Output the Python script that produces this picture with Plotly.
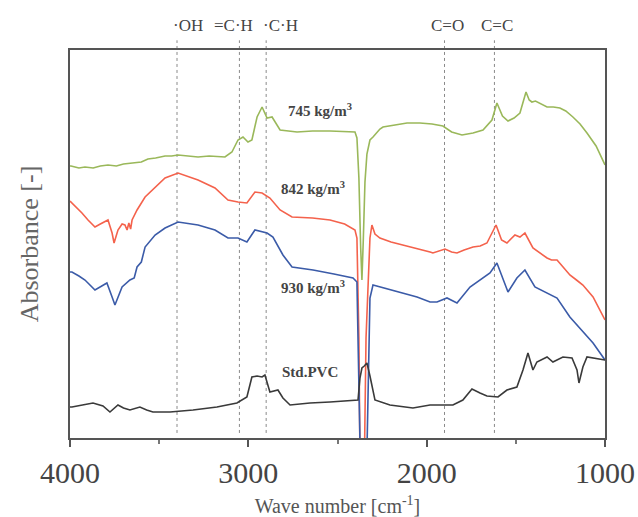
import plotly.graph_objects as go

# ---------------- data (wavenumber cm^-1, absorbance a.u.) ----------------
w_745 = [4000, 3994, 3950, 3916, 3870, 3830, 3787, 3740, 3700, 3652, 3600, 3563, 3520, 3467, 3430, 3394, 3340, 3282, 3220, 3131,
         3092, 3058, 3030, 3002, 2980, 2951, 2923, 2895, 2867, 2822, 2727, 2640, 2542, 2460, 2402,
         2391, 2380, 2370, 2363, 2355, 2346, 2335, 2318, 2301, 2262, 2245, 2180, 2110, 2038,
         1970, 1909, 1860, 1802, 1740, 1684, 1634, 1606, 1575, 1544, 1510, 1477, 1443, 1425, 1410, 1390, 1365, 1325, 1290, 1253,
         1220, 1180, 1140, 1101, 1050, 1000]
a_745 = [1.36, 1.36, 1.35, 1.355, 1.35, 1.36, 1.365, 1.36, 1.37, 1.375, 1.38, 1.395, 1.40, 1.41, 1.41, 1.415, 1.41, 1.405, 1.41, 1.405,
         1.43, 1.49, 1.505, 1.48, 1.49, 1.605, 1.655, 1.60, 1.605, 1.54, 1.53, 1.535, 1.535, 1.53, 1.53,
         1.50, 1.30, 0.95, 0.79, 1.00, 1.28, 1.42, 1.49, 1.505, 1.545, 1.555, 1.565, 1.575, 1.575,
         1.57, 1.56, 1.53, 1.515, 1.525, 1.54, 1.59, 1.675, 1.61, 1.585, 1.60, 1.625, 1.73, 1.69, 1.68, 1.685, 1.675, 1.655, 1.655, 1.65,
         1.635, 1.605, 1.57, 1.525, 1.46, 1.365]

w_842 = [4000, 3960, 3933, 3899, 3860, 3830, 3804, 3787, 3764, 3753, 3731, 3708, 3692, 3680, 3670, 3660, 3652, 3624, 3579,
         3523, 3467, 3394, 3282, 3187, 3114, 3058, 3008, 2963, 2923, 2879, 2822, 2755, 2640, 2542, 2460, 2402,
         2391, 2380, 2372, 2352, 2340, 2318, 2307, 2290, 2262, 2200, 2133, 2054, 1981, 1965, 1930, 1897, 1860, 1830, 1790, 1740, 1700, 1662,
         1611, 1580, 1550, 1505, 1477, 1449, 1404, 1360, 1325, 1300, 1269, 1240, 1197, 1160, 1124, 1067, 1000]
a_842 = [1.185, 1.15, 1.125, 1.09, 1.055, 1.07, 1.08, 1.09, 1.025, 0.975, 1.04, 1.07, 1.065, 1.04, 1.075, 1.045, 1.09, 1.14, 1.205,
         1.255, 1.30, 1.325, 1.29, 1.25, 1.19, 1.18, 1.175, 1.23, 1.225, 1.20, 1.14, 1.105, 1.10, 1.09, 1.07, 1.04,
         1.00, 0.50, -0.30, -0.30, 0.50, 1.00, 1.065, 1.02, 1.00, 0.98, 0.965, 0.95, 0.93, 0.925, 0.935, 0.945, 0.93, 0.925, 0.94, 0.955, 0.96, 0.975,
         1.065, 0.99, 0.975, 1.015, 1.005, 1.025, 0.95, 0.92, 0.90, 0.89, 0.89, 0.86, 0.815, 0.79, 0.765, 0.705, 0.59]

w_930 = [4000, 3989, 3950, 3916, 3860, 3820, 3793, 3764, 3748, 3708, 3664, 3640, 3624, 3600, 3579, 3523, 3467, 3394, 3282, 3187,
         3114, 3058, 3008, 2963, 2895, 2862, 2806, 2755, 2637, 2520, 2413,
         2391, 2380, 2368, 2340, 2329, 2318, 2301, 2240, 2167, 2054, 1981, 1942, 1886, 1830, 1757, 1701, 1645, 1606,
         1570, 1544, 1494, 1449, 1393, 1325, 1269, 1197, 1124, 1067, 1000]
a_930 = [0.83, 0.83, 0.81, 0.79, 0.74, 0.76, 0.775, 0.705, 0.665, 0.755, 0.79, 0.80, 0.855, 0.88, 0.955, 1.015, 1.05, 1.08, 1.065, 1.04,
         1.00, 1.00, 0.98, 1.04, 1.025, 1.005, 0.915, 0.855, 0.84, 0.82, 0.80,
         0.78, 0.40, -0.30, -0.30, 0.20, 0.70, 0.765, 0.75, 0.73, 0.705, 0.68, 0.68, 0.70, 0.675, 0.755, 0.79, 0.825, 0.875,
         0.79, 0.73, 0.80, 0.84, 0.755, 0.725, 0.70, 0.605, 0.53, 0.475, 0.39]

w_pvc = [4000, 3989, 3930, 3871, 3815, 3776, 3731, 3700, 3664, 3608, 3570, 3535, 3439, 3310, 3176, 3064, 3008, 2980, 2951, 2923, 2907,
         2879, 2834, 2806, 2766, 2654, 2542, 2385,
         2374, 2363, 2350, 2335, 2318, 2290, 2206, 2077, 1981, 1909, 1853, 1797, 1746, 1701, 1662, 1600, 1550, 1494,
         1460, 1432, 1404, 1382, 1325, 1292, 1236, 1185, 1157, 1146, 1124, 1101, 1067, 1000]
a_pvc = [0.155, 0.155, 0.165, 0.175, 0.16, 0.13, 0.165, 0.15, 0.14, 0.155, 0.14, 0.13, 0.13, 0.14, 0.155, 0.175, 0.205, 0.305, 0.31, 0.305, 0.315,
         0.23, 0.24, 0.20, 0.165, 0.175, 0.18, 0.19,
         0.30, 0.35, 0.36, 0.375, 0.31, 0.19, 0.165, 0.15, 0.165, 0.165, 0.165, 0.19, 0.245, 0.225, 0.21, 0.205, 0.24, 0.255,
         0.34, 0.425, 0.34, 0.38, 0.405, 0.38, 0.405, 0.40, 0.34, 0.275, 0.355, 0.405, 0.40, 0.39]

band_pos = [3400, 3050, 2900, 1900, 1620]
band_lbl = ["\u00b7OH", "=C\u00b7H", "\u00b7C\u00b7H", "C=O", "C=C"]
band_lbl_x = [3338, 3086, 2817, 1886, 1606]

series_names = ["745 kg/m<sup>3</sup>", "842 kg/m<sup>3</sup>", "930 kg/m<sup>3</sup>", "Std.PVC"]
label_x = [2598, 2637, 2637, 2654]
label_y = [1.64, 1.25, 0.755, 0.33]

x_ticks = [4000, 3000, 2000, 1000]

# ---------------- figure ----------------
FONT = "Liberation Serif, Times New Roman, serif"
colors = ["#9ab85a", "#f4624c", "#3b5ba8", "#3a3a3a"]
fig = go.Figure()
for wx, ay, c, n in zip([w_745, w_842, w_930, w_pvc], [a_745, a_842, a_930, a_pvc], colors, series_names):
    fig.add_trace(go.Scatter(x=wx, y=ay, mode="lines", line=dict(color=c, width=1.6),
                             name=n, showlegend=False, hoverinfo="skip"))

for p in band_pos:
    fig.add_shape(type="line", xref="x", yref="paper", x0=p, x1=p, y0=0.013, y1=1.025,
                  line=dict(color="#8a8a8a", width=1, dash="dot"), layer="below")

for t, xx in zip(band_lbl, band_lbl_x):
    fig.add_annotation(x=xx, xref="x", y=1.064, yref="paper", text=t, showarrow=False,
                       font=dict(family=FONT, size=17, color="#444"), yanchor="middle")

for t, xx, yy in zip(series_names, label_x, label_y):
    fig.add_annotation(x=xx, y=yy, text="<b>" + t + "</b>", showarrow=False,
                       font=dict(family=FONT, size=15, color="#444"))

fig.update_layout(
    width=638, height=517,
    margin=dict(l=70, r=33, t=50, b=79),
    paper_bgcolor="white", plot_bgcolor="white",
    font=dict(family=FONT, color="#444"),
    xaxis=dict(range=[4000, 1000], tickvals=x_ticks, ticktext=[str(v) for v in x_ticks],
               ticks="outside", ticklen=7, tickwidth=1.5, tickcolor="#555",
               minor=dict(ticks="outside", ticklen=4, tickcolor="#777", dtick=500, tick0=1000, showgrid=False),
               showline=True, linecolor="#555", linewidth=1.5, mirror=True,
               showgrid=False, zeroline=False, automargin=False,
               tickfont=dict(family=FONT, size=30, color="#444"),
               title=dict(text="Wave number [cm<sup>-1</sup>]", font=dict(family=FONT, size=20, color="#555"), standoff=14)),
    yaxis=dict(range=[0, 1.94], showticklabels=False, ticks="", showline=True, linecolor="#555",
               linewidth=1.5, mirror=True, showgrid=False, zeroline=False, automargin=False,
               title=dict(text="Absorbance [-]", font=dict(family=FONT, size=26, color="#666"), standoff=22)),
)

fig.write_html("out.html")
